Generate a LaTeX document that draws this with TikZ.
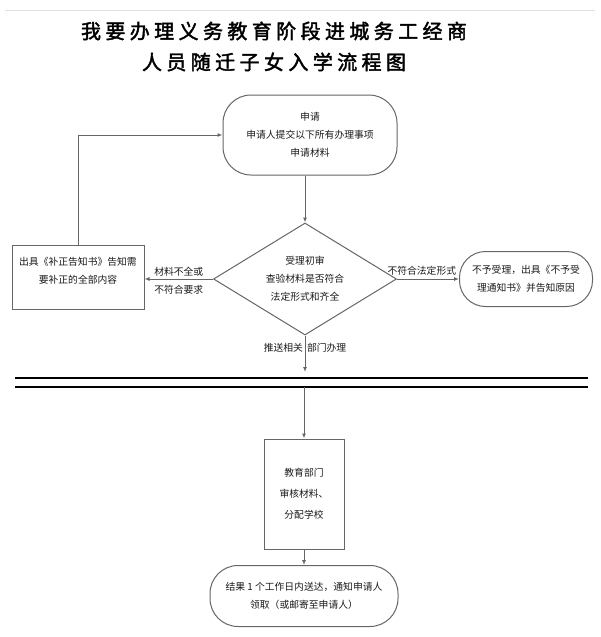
\documentclass[tikz,border=0pt]{standalone}
\usepackage{fontspec}
\newfontfamily\cjk{Noto Sans CJK SC}
\newfontfamily\cjktitle[FakeBold=2,LetterSpace=22]{Noto Sans CJK SC}
\usetikzlibrary{shapes.geometric,arrows.meta}
\definecolor{ln}{HTML}{666666}
\definecolor{txt}{HTML}{1A1A1A}
\begin{document}
\begin{tikzpicture}[x=1pt,y=-1pt,
  every node/.style={font=\cjk\fontsize{9.8}{18}\selectfont, text=txt},
  box/.style={draw=ln, line width=1pt, align=center, inner sep=0pt},
  arr/.style={draw=ln, line width=1pt, -{Latex[length=5pt,width=4pt]}},
  lbl/.style={inner sep=1.5pt}]
\useasboundingbox (0,0) rectangle (600,637);
\coordinate (tl) at (5,10);
\coordinate (tr) at (595,10);
\draw[black!12, line width=1pt] (tl) -- (tr);
\node[font=\cjktitle\fontsize{20}{31}\selectfont, text=black, align=center] (title) at (274,46.5)
  {我要办理义务教育阶段进城务工经商\\人员随迁子女入学流程图};
\node[box, rounded corners=28, minimum width=174, minimum height=80] (apply) at (310,135)
  {申请\\申请人提交以下所有办理事项\\申请材料};
\node[box, diamond, aspect=1.63, minimum width=183, minimum height=112] (check) at (305,279)
  {受理初审\\查验材料是否符合\\法定形式和齐全};
\node[box, minimum width=132, minimum height=64] (fix) at (78,277) {};
\node[align=center] (fixtxt) at (78,271) {出具《补正告知书》告知需\\要补正的全部内容};
\node[box, rounded corners=26, minimum width=133, minimum height=55] (reject) at (526,279)
  {不予受理，出具《不予受\\理通知书》并告知原因};
\coordinate (b1l) at (15,378);
\coordinate (b1r) at (588,378);
\coordinate (b2l) at (15,387);
\coordinate (b2r) at (588,387);
\draw[black, line width=2pt] (b1l) -- (b1r);
\draw[black, line width=2pt] (b2l) -- (b2r);
\node[box, minimum width=80, minimum height=110, font=\cjk\fontsize{9.8}{21}\selectfont] (edu) at (304,494)
  {教育部门\\审核材料、\\分配学校};
\node[box, rounded corners=28, minimum width=188, minimum height=61] (result) at (304,596)
  {结果 1 个工作日内送达，通知申请人\\领取（或邮寄至申请人）};
% connectors
\draw[arr] (apply.south -| check.north) -- (check.north);
\draw[arr] (check.west) -- node[lbl,above,yshift=1pt]{材料不全或} node[lbl,below,yshift=-4pt]{不符合要求} (check.west -| fix.east);
\draw[arr] (check.east) -- node[lbl,above,pos=0.4,yshift=2pt]{不符合法定形式} (reject.west);
\draw[arr] (fix.north) |- (apply.west);
\draw[arr, shorten >=6pt] (check.south) -- node[lbl,left,pos=0.3]{推送相关} node[lbl,right,pos=0.3]{部门办理} (check.south |- b1l);
\draw[arr] (b2l -| edu.north) -- (edu.north);
\draw[arr] (edu.south) -- (result.north);
\end{tikzpicture}
\end{document}
